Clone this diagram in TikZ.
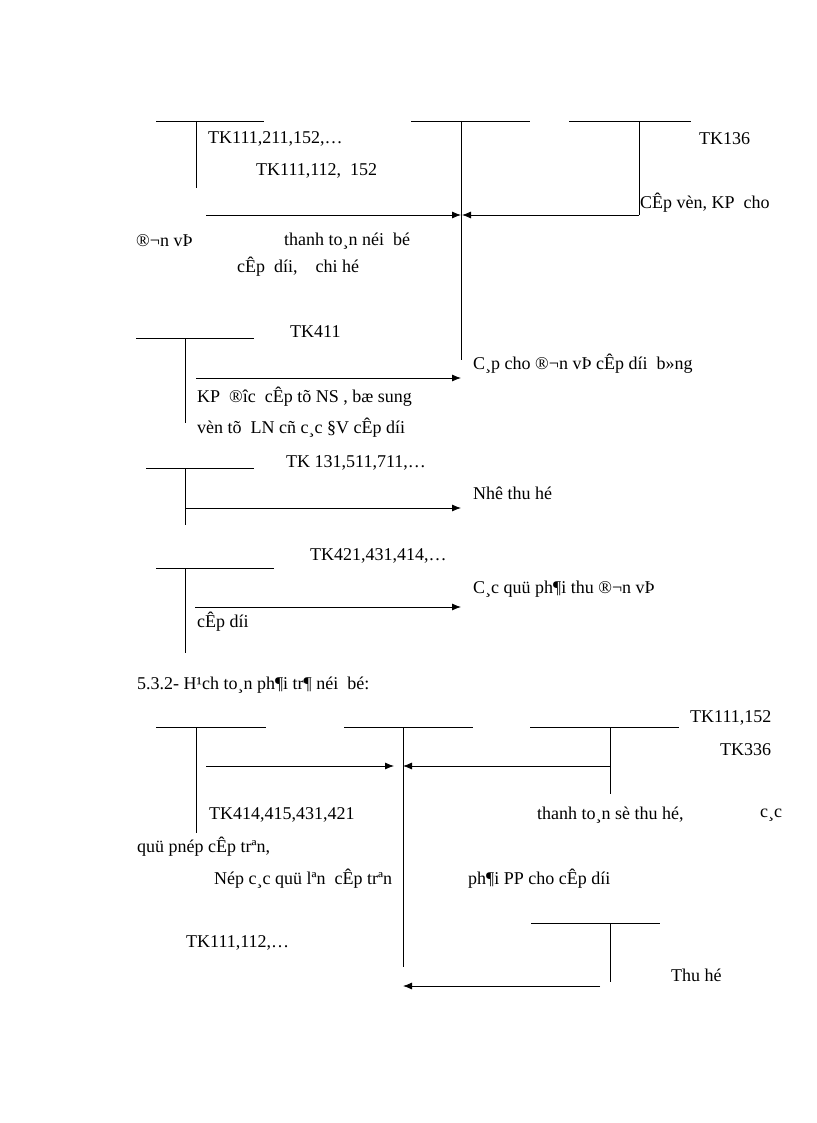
\documentclass[tikz,border=0pt]{standalone}
\usepackage{fontspec}
\setmainfont{Liberation Serif}
\usetikzlibrary{arrows.meta}
\begin{document}
\begin{tikzpicture}[x=1pt,y=-1pt,
  ln/.style={line width=0.8pt},
  ar/.style={line width=0.8pt,-{Latex[length=9pt,width=7pt]}},
  t/.style={anchor=west,inner sep=0pt,font=\fontsize{18}{21}\selectfont}]
\useasboundingbox (0,0) rectangle (816,1123);
% section 1
\coordinate (a1l) at (156,121); \coordinate (a1r) at (264,121);
\coordinate (a1t) at (196,121); \coordinate (a1b) at (196,188);
\coordinate (a2l) at (411,121); \coordinate (a2r) at (530,121);
\coordinate (a2t) at (461,121); \coordinate (a2b) at (461,360);
\coordinate (a3l) at (569,121); \coordinate (a3r) at (691,121);
\coordinate (a3t) at (639,121); \coordinate (a3b) at (639,215);
\draw[ln] (a1l)--(a1r) (a1t)--(a1b) (a2l)--(a2r) (a2t)--(a2b) (a3l)--(a3r) (a3t)--(a3b);
\coordinate (s1) at (206,215); \coordinate (e1) at (461,215);
\coordinate (s2) at (639,215); \coordinate (e2) at (462,215);
\draw[ar] (s1)--(e1); \draw[ar] (s2)--(e2);
\node[t] (l1) at (208,139) {TK111,211,152,…};
\node[t] (l2) at (256,171) {TK111,112,\ \ 152};
\node[t] (l3) at (699,139) {TK136};
\node[t] (l4) at (640,203) {CÊp vèn, KP\ \ cho};
\node[t] (l5) at (136,241) {®¬n vÞ};
\node[t] (l6) at (284,241) {thanh to¸n néi\ \ bé};
\node[t] (l7) at (237,267) {cÊp\ \ díi,\ \ \ \ chi hé};
% TK411
\coordinate (b1l) at (136,338); \coordinate (b1r) at (254,338);
\coordinate (b1t) at (185,338); \coordinate (b1b) at (185,423);
\draw[ln] (b1l)--(b1r) (b1t)--(b1b);
\coordinate (s3) at (196,378); \coordinate (e3) at (461,378);
\draw[ar] (s3)--(e3);
\node[t] (l8) at (290,332) {TK411};
\node[t] (l9) at (473,364) {C¸p cho ®¬n vÞ cÊp díi\ \ b»ng};
\node[t] (l10) at (197,397) {KP\ \ ®îc\ \ cÊp tõ NS , bæ sung};
\node[t] (l11) at (197,428) {vèn tõ\ \ LN cñ c¸c §V cÊp díi};
% TK131
\coordinate (c1l) at (146,468); \coordinate (c1r) at (254,468);
\coordinate (c1t) at (185,468); \coordinate (c1b) at (185,525);
\draw[ln] (c1l)--(c1r) (c1t)--(c1b);
\coordinate (s4) at (185,508); \coordinate (e4) at (461,508);
\draw[ar] (s4)--(e4);
\node[t] (l12) at (286,463) {TK 131,511,711,…};
\node[t] (l13) at (473,493) {Nhê thu hé};
% TK421
\coordinate (d1l) at (156,568); \coordinate (d1r) at (274,568);
\coordinate (d1t) at (185,568); \coordinate (d1b) at (185,653);
\draw[ln] (d1l)--(d1r) (d1t)--(d1b);
\coordinate (s5) at (195,607); \coordinate (e5) at (461,607);
\draw[ar] (s5)--(e5);
\node[t] (l14) at (310,556) {TK421,431,414,…};
\node[t] (l15) at (473,589) {C¸c quü ph¶i thu ®¬n vÞ};
\node[t] (l16) at (197,622) {cÊp díi};
\node[t] (h) at (137,685) {5.3.2- H¹ch to¸n ph¶i tr¶ néi\ \ bé:};
% section 2
\coordinate (f1l) at (156,727); \coordinate (f1r) at (266,727);
\coordinate (f1t) at (196,727); \coordinate (f1b) at (196,833);
\coordinate (f2l) at (344,727); \coordinate (f2r) at (473,727);
\coordinate (f2t) at (403,727); \coordinate (f2b) at (403,967);
\coordinate (f3l) at (530,727); \coordinate (f3r) at (679,727);
\coordinate (f3t) at (610,727); \coordinate (f3b) at (610,794);
\draw[ln] (f1l)--(f1r) (f1t)--(f1b) (f2l)--(f2r) (f2t)--(f2b) (f3l)--(f3r) (f3t)--(f3b);
\coordinate (s6) at (206,766); \coordinate (e6) at (394,766);
\coordinate (s7) at (610,766); \coordinate (e7) at (403,766);
\draw[ar] (s6)--(e6); \draw[ar] (s7)--(e7);
\node[t] (m1) at (690,718) {TK111,152};
\node[t] (m2) at (720,750) {TK336};
\node[t] (m3) at (209,815) {TK414,415,431,421};
\node[t] (m4) at (537,815) {thanh to¸n sè thu hé,};
\node[t] (m5) at (760,815) {c¸c};
\node[t] (m6) at (137,847) {quü pnép cÊp trªn,};
\node[t] (m7) at (214,879) {Nép c¸c quü lªn\ \ cÊp trªn};
\node[t] (m8) at (468,879) {ph¶i PP cho cÊp díi};
\coordinate (g1l) at (531,923); \coordinate (g1r) at (660,923);
\coordinate (g1t) at (610,923); \coordinate (g1b) at (610,982);
\draw[ln] (g1l)--(g1r) (g1t)--(g1b);
\coordinate (s8) at (600,986); \coordinate (e8) at (403,986);
\draw[ar] (s8)--(e8);
\node[t] (m9) at (186,943) {TK111,112,…};
\node[t] (m10) at (671,975) {Thu hé};
\end{tikzpicture}
\end{document}
